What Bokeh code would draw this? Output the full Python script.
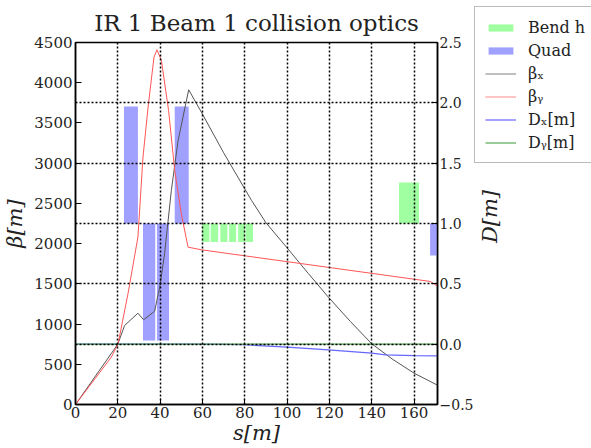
import math
from bokeh.plotting import figure
from bokeh.models import (Range1d, LinearAxis, FixedTicker, Grid, Legend,
                          LegendItem, ColumnDataSource, Label)
from bokeh.embed import file_html
from bokeh.resources import INLINE

# ---- data ----
s_bx = [0, 20.0, 23.2, 29.5, 32.2, 37.4, 39.8, 42.1, 45.3, 48.5, 53.5, 59.5, 70.0,
        83.2, 90.0, 99.7, 110.0, 119.5, 130.0, 140.0, 150.0, 160.0, 171.1]
beta_x = [0, 750, 982, 1135, 1053, 1160, 1458, 1873, 2660, 3282, 3912, 3634, 3130,
          2537, 2260, 1957, 1630, 1335, 1030, 755, 560, 390, 240]

s_by = [0, 16.9, 20.1, 24.8, 29.5, 31.9, 34.3, 37.1, 38.5, 40.6, 44.0, 46.9,
        50.0, 53.2, 59.5, 167.6, 171.1]
beta_y = [0, 588, 750, 1376, 2080, 3075, 3696, 4318, 4410, 4277, 3655, 2909,
          2371, 1956, 1923, 1530, 1470]

s_dx = [0, 20.0, 55.0, 70.0, 80.0, 100.0, 119.5, 140.0, 146.6, 160.0, 171.1]
disp_x = [0.0, 0.0, 0.0, -0.002, -0.005, -0.025, -0.047, -0.075, -0.088, -0.095, -0.097]

s_dy = [0, 171.1]
disp_y = [0.0, 0.0]

quad_start = [22.9, 31.9, 38.5, 46.9, 167.6]
quad_end = [29.5, 37.7, 44.2, 53.5, 175.0]
quad_k = [0.97, -0.97, -0.97, 0.97, -0.265]

bend_start = [59.8, 63.9, 68.5, 72.6, 76.9, 80.6, 152.9]
bend_end = [63.3, 67.4, 71.8, 75.9, 80.3, 83.9, 162.4]
bend_k = [-0.153, -0.153, -0.153, -0.153, -0.153, -0.153, 0.34]

element_base = 1.0

x_ticks = [0, 20, 40, 60, 80, 100, 120, 140, 160]
beta_ticks = [0, 500, 1000, 1500, 2000, 2500, 3000, 3500, 4000, 4500]
d_ticks = [-0.5, 0.0, 0.5, 1.0, 1.5, 2.0, 2.5]
d_grid = [0.0, 0.5, 1.0, 1.5, 2.0]

FONT = "DejaVu Serif"
TXT = "#222222"
BEND_C = "#a0ffa0"
QUAD_C = "#a0a0ff"
BX_C = "#555555"
BY_C = "#ff5555"
DX_C = "#6666ff"
DY_C = "#55aa55"

p = figure(frame_width=362, frame_height=362,
           x_range=Range1d(0, 171.1), y_range=Range1d(0, 4500),
           output_backend="svg", toolbar_location=None,
           min_border_left=66, min_border_right=37,
           min_border_top=34, min_border_bottom=40,
           title="IR 1 Beam 1 collision optics")
p.extra_y_ranges = {"D": Range1d(-0.5, 2.5)}

p.title.text_font = FONT
p.title.text_font_size = "23px"
p.title.text_font_style = "normal"
p.title.align = "center"
p.title.text_color = TXT
p.title.standoff = 14

p.outline_line_color = "black"
p.outline_line_width = 1.5
p.background_fill_color = "white"
p.border_fill_color = "white"

# grids
p.xgrid.ticker = FixedTicker(ticks=x_ticks[1:])
p.xgrid.grid_line_color = "black"
p.xgrid.grid_line_dash = "2 2"
p.xgrid.grid_line_width = 1.5
p.xgrid.level = "guide"
p.ygrid.visible = False
dgrid = Grid(dimension=1, ticker=FixedTicker(ticks=d_grid), y_range_name="D",
             grid_line_color="black", grid_line_dash="2 2",
             grid_line_width=1.5, level="guide")
p.add_layout(dgrid)

# elements
bend_src = ColumnDataSource(dict(
    left=bend_start, right=bend_end,
    bottom=[element_base] * len(bend_k),
    top=[element_base + k for k in bend_k]))
quad_src = ColumnDataSource(dict(
    left=quad_start, right=quad_end,
    bottom=[element_base] * len(quad_k),
    top=[element_base + k for k in quad_k]))

p.quad(left="left", right="right", bottom="bottom", top="top",
       source=bend_src, y_range_name="D", fill_color=BEND_C, line_color=None)
p.quad(left="left", right="right", bottom="bottom", top="top",
       source=quad_src, y_range_name="D", fill_color=QUAD_C, line_color=None)

p.line(s_bx, beta_x, line_color=BX_C, line_width=1)
p.line(s_by, beta_y, line_color=BY_C, line_width=1)
p.line(s_dx, disp_x, y_range_name="D", line_color=DX_C, line_width=1.2)
p.line(s_dy, disp_y, y_range_name="D", line_color=DY_C, line_width=1.2)

# axes
for ax in [p.xaxis[0], p.yaxis[0]]:
    ax.axis_line_width = 1.5
    ax.major_tick_in = 6
    ax.major_tick_out = 0
    ax.minor_tick_line_color = None
    ax.major_label_text_font = FONT
    ax.major_label_text_font_size = "15px"
    ax.major_label_text_color = TXT
    ax.axis_label_text_font = FONT
    ax.axis_label_text_font_size = "21px"
    ax.axis_label_text_font_style = "italic"
    ax.axis_label_text_color = TXT

p.xaxis.ticker = FixedTicker(ticks=x_ticks)
p.xaxis.axis_label = "s[m]"
p.xaxis.axis_label_standoff = 0
p.xaxis.major_label_standoff = 2

p.yaxis.ticker = FixedTicker(ticks=beta_ticks)
p.yaxis.axis_label = "β[m]"
p.yaxis.axis_label_standoff = 4
p.yaxis.major_label_standoff = 3

rax = LinearAxis(y_range_name="D", ticker=FixedTicker(ticks=d_ticks))
rax.major_label_overrides = {-0.5: "−0.5", 0.0: "0.0", 0.5: "0.5", 1.0: "1.0",
                             1.5: "1.5", 2.0: "2.0", 2.5: "2.5"}
rax.axis_line_width = 1.5
rax.major_tick_in = 6
rax.major_tick_out = 0
rax.minor_tick_line_color = None
rax.major_label_text_font = FONT
rax.major_label_text_font_size = "14px"
rax.major_label_text_color = TXT
rax.major_label_standoff = 2
p.add_layout(rax, "right")

# ---- side piece: legend and right-axis label, placed over the page ----
W2, H2 = 118, 240
p2 = figure(width=W2, height=H2, x_range=Range1d(1000, 1000 + W2),
            y_range=Range1d(0, H2),
            x_axis_type=None, y_axis_type=None, min_border=0,
            output_backend="svg", toolbar_location=None)
p2.grid.visible = False
p2.outline_line_color = None
p2.background_fill_alpha = 0
p2.border_fill_alpha = 0
p2.styles = {"position": "absolute", "left": "473px", "top": "5px"}

# same data, drawn outside this panel's visible range (only the legend shows)
g_bend = p2.quad(left="left", right="right", bottom="bottom", top="top",
                 source=bend_src, fill_color=BEND_C, line_color=None)
g_quad = p2.quad(left="left", right="right", bottom="bottom", top="top",
                 source=quad_src, fill_color=QUAD_C, line_color=None)
g_bx = p2.line(s_bx, beta_x, line_color=BX_C, line_width=1.5, line_alpha=0.5)
g_by = p2.line(s_by, beta_y, line_color=BY_C, line_width=1.5, line_alpha=0.45)
g_dx = p2.line(s_dx, disp_x, line_color=DX_C, line_width=1.2)
g_dy = p2.line(s_dy, disp_y, line_color=DY_C, line_width=1.2)

legend = Legend(items=[
    LegendItem(label="Bend h", renderers=[g_bend]),
    LegendItem(label="Quad", renderers=[g_quad]),
    LegendItem(label="βₓ", renderers=[g_bx]),
    LegendItem(label="βᵧ", renderers=[g_by]),
    LegendItem(label="Dₓ[m]", renderers=[g_dx]),
    LegendItem(label="Dᵧ[m]", renderers=[g_dy]),
], location="top_left")
legend.label_text_font = FONT
legend.label_text_font_size = "16px"
legend.label_text_color = TXT
legend.glyph_width = 31
legend.glyph_height = 9
legend.label_height = 20
legend.label_standoff = 12
legend.spacing = 3
legend.padding = 10
legend.margin = 1
legend.border_line_color = "#777777"
legend.border_line_width = 1
legend.background_fill_color = "white"
legend.background_fill_alpha = 1.0
p2.add_layout(legend)

p2.add_layout(Label(x=1016, y=29, text="D[m]", angle=math.pi / 2,
                    text_align="center", text_baseline="middle",
                    text_font=FONT, text_font_size="21px",
                    text_font_style="italic", text_color=TXT))

open("out.html", "w").write(file_html([p, p2], INLINE))
